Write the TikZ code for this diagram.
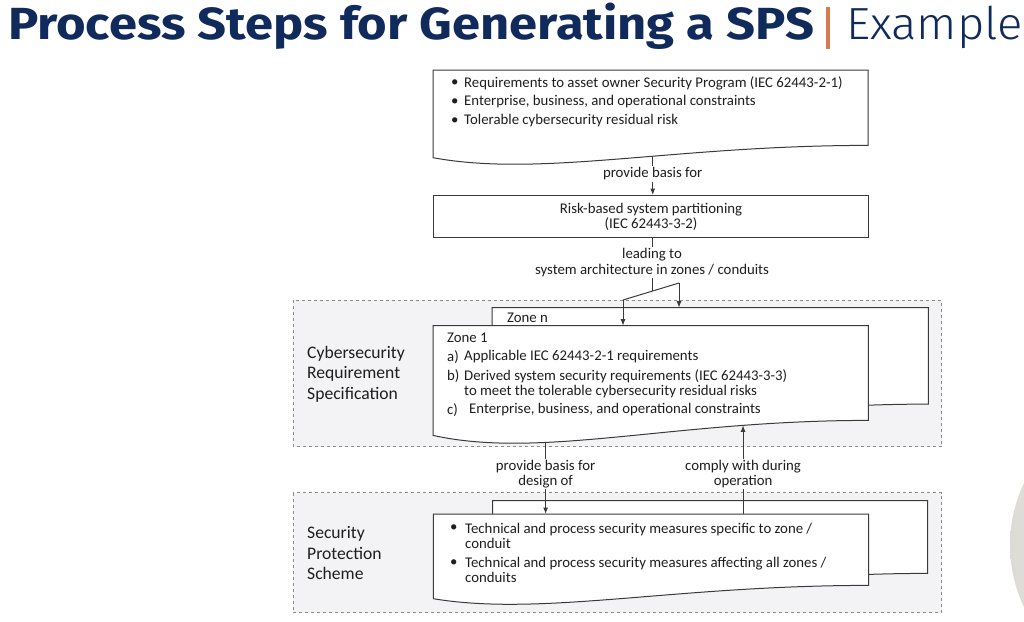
\documentclass[tikz,border=0pt]{standalone}
\usepackage{fontspec}
\setmainfont{Carlito}
\newfontfamily\titlefont{Fira Sans}
\newfontfamily\lightfont{Fira Sans Light}
\usetikzlibrary{arrows.meta,calc}

\definecolor{navy}{HTML}{0F2A5B}
\definecolor{rust}{HTML}{D97A4E}
\definecolor{areagrey}{HTML}{F3F3F5}
\definecolor{dashgrey}{HTML}{8C8C8C}
\definecolor{boxline}{HTML}{3A3A3A}
\definecolor{ink}{HTML}{1E1E1E}
\definecolor{ballgrey}{HTML}{DCDBD6}

% box with a wavy bottom edge: name, dip, rise, extra path ops
\newcommand{\docshape}[4]{%
  \filldraw[docline] (#1.north west) -- (#1.south west)
    .. controls ($(#1.south west)!0.25!(#1.south east)+(0,#2)$)
    and ($(#1.south west)!0.55!(#1.south east)+(0,-#3)$)
    .. ($(#1.south east)+(0,-#3)$) #4 -- (#1.north east) -- cycle;}

\begin{document}
\begin{tikzpicture}[x=1pt,y=-1pt]

\tikzset{box/.style = {anchor=north west, inner sep=0, draw=none}}
\tikzset{docline/.style = {draw=boxline, fill=white, line width=1pt}}
\tikzset{txt/.style = {anchor=west, inner sep=0, text=ink, font=\fontsize{14.8}{15}\selectfont}}
\tikzset{lbl/.style = {inner sep=1pt, align=center, text=ink, font=\fontsize{14.8}{15.5}\selectfont}}
\tikzset{side/.style = {anchor=west, inner sep=0, align=left, text=ink, font=\fontsize{17.6}{20.5}\selectfont}}
\tikzset{area/.style = {draw=dashgrey, dashed, fill=areagrey, line width=0.6pt}}
\tikzset{line/.style = {draw=boxline, line width=1pt}}
\tikzset{edge/.style = {->,> = {Latex[length=6.5pt,width=5pt]}, draw=boxline, line width=1pt}}

%page
\fill[white] (0,0) rectangle (1024,621);
\useasboundingbox (0,0) rectangle (1024,621);
\shade[left color=ballgrey, right color=white!90!ballgrey] (1154,545) circle (144pt);

%title
\node[anchor=base west, inner sep=0, text=navy, font=\titlefont\bfseries\fontsize{45}{50}\selectfont] (title) at (8,39.5) {\scalebox{1.126}[1]{Process Steps for Generating a SPS}};
\fill[rust] (826,7) rectangle (829.5,49);
\node[anchor=base west, inner sep=0, text=navy, font=\lightfont\fontsize{45}{50}\selectfont] (subtitle) at (846,39.5) {\scalebox{1.05}[1]{Example}};

%frames
\draw[area] (293,300) rectangle (941.5,446.5);
\draw[area] (293,492.5) rectangle (941.5,612.5);
\node[side] (crs) at (307,374) {Cybersecurity\\Requirement\\Specification};
\node[side] (sps) at (307,553) {Security\\Protection\\Scheme};

%boxes
\node[box, minimum width=434.7pt, minimum height=87.3pt] (reqs) at (433,70) {};
\docshape{reqs}{20}{12.3}{coordinate[pos=0.58] (reqs-out)}
\node[txt] (r-b1) at (451,83) {•};
\node[txt] (r-t1) at (464,83) {Requirements to asset owner Security Program (IEC 62443-2-1)};
\node[txt] (r-b2) at (451,102) {•};
\node[txt] (r-t2) at (464,102) {Enterprise, business, and operational constraints};
\node[txt] (r-b3) at (451,121) {•};
\node[txt] (r-t3) at (464,121) {Tolerable cybersecurity residual risk};

\node[anchor=north west, draw=boxline, fill=white, line width=1pt, minimum width=435pt, minimum height=42pt, align=center, text=ink, font=\fontsize{14.8}{15}\selectfont] (risk) at (433,195) {Risk-based system partitioning\\(IEC 62443-3-2)};

\node[box, minimum width=436pt, minimum height=110pt] (zonen) at (492,307.7) {};
\docshape{zonen}{22}{14}{}
\node[txt] (zn-title) at (507,318) {Zone n};

\node[box, minimum width=435pt, minimum height=109.3pt] (zone1) at (433,325.7) {};
\docshape{zone1}{24}{15}{coordinate[pos=0.32] (z1-down) coordinate[pos=0.77] (z1-up)}
\node[txt] (z1-title) at (447,338) {Zone 1};
\node[txt] (z1-a) at (447,357) {a)};
\node[txt] (z1-at) at (464,357) {Applicable IEC 62443-2-1 requirements};
\node[txt] (z1-b) at (447,376) {b)};
\node[txt, align=left] (z1-bt) at (464,383.5) {Derived system security requirements (IEC 62443-3-3)\\to meet the tolerable cybersecurity residual risks};
\node[txt] (z1-c) at (447,410) {c)};
\node[txt] (z1-ct) at (469,410) {Enterprise, business, and operational constraints};

\node[box, minimum width=434.6pt, minimum height=86.3pt] (spsb) at (492.7,500.7) {};
\docshape{spsb}{20}{14}{}
\node[box, minimum width=435pt, minimum height=84.3pt] (spsf) at (433.3,514) {};
\docshape{spsf}{18}{13.3}{}
\node[txt] (s-b1) at (450,528) {•};
\node[txt, align=left] (s-t1) at (465,535.5) {Technical and process security measures specific to zone /\\conduit};
\node[txt] (s-b2) at (450,563) {•};
\node[txt, align=left] (s-t2) at (465,570) {Technical and process security measures affecting all zones /\\conduits};

%labels
\node[lbl] (basis) at (reqs-out |- 0,174) {provide basis for};
\node[lbl] (lead) at (652,262.5) {leading to\\system architecture in zones / conduits};
\node[lbl] (design) at (z1-down |- 0,474) {provide basis for\\design of};
\node[lbl] (comply) at (z1-up |- 0,474) {comply with during\\operation};

%edges
\draw[line] (reqs-out) -- (basis.north);
\draw[edge] (basis.south) -- (basis.south |- risk.north);
\draw[line] (lead.north |- risk.south) -- (lead.north);
\coordinate (fork-l) at (623,300);
\coordinate (fork-r) at (679,283);
\draw[line] (fork-l) -- coordinate[pos=0.518] (fork-m) (fork-r);
\draw[line] (lead.south) -- (lead.south |- fork-m);
\draw[edge] (fork-r) -- (fork-r |- zonen.north);
\draw[edge] (fork-l) -- (fork-l |- zone1.north);
\draw[line] (z1-down) -- (design.north);
\draw[edge] (design.south) -- (design.south |- spsf.north);
\draw[edge] (comply.north) -- (z1-up);
\draw[line] (comply.south |- spsf.north) -- (comply.south);

\end{tikzpicture}
\end{document}
